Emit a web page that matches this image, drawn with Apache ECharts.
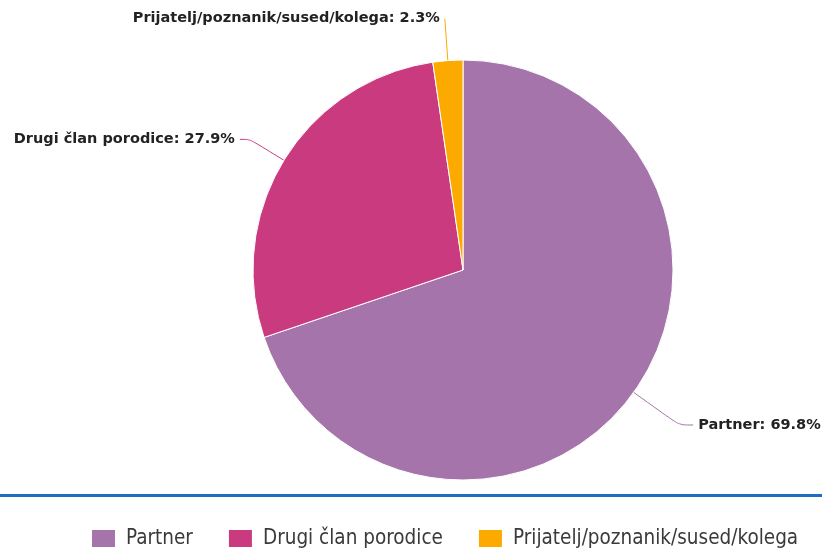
<!DOCTYPE html>
<html>
<head>
<meta charset="utf-8">
<script src="https://cdn.jsdelivr.net/npm/echarts@6/dist/echarts.min.js"></script>
<style>
  html, body { margin: 0; padding: 0; background: #fff; }
  #chart { width: 822px; height: 552px; }
</style>
</head>
<body>
<div id="chart"></div>
<script>
const categories = ['Partner', 'Drugi član porodice', 'Prijatelj/poznanik/sused/kolega']
const values = [69.8, 27.9, 2.3]
const colors = ['#a474ab', '#c93a7e', '#fdaa00']

// label line lengths per slice (first segment, second segment)
const lineLen = [[56, 14], [40, 10], [42, 0]]

const chart = echarts.init(document.getElementById('chart'))

chart.setOption({
  animation: false,
  color: colors,
  legend: {
    top: 528,
    left: 90,
    padding: 0,
    itemWidth: 25,
    itemHeight: 19,
    itemGap: 34,
    icon: 'rect',
    textStyle: {
      fontFamily: 'DejaVu Sans Condensed',
      fontSize: 20.5,
      color: '#3a3a3a',
      padding: [0, 0, 0, 5]
    },
    data: categories
  },
  graphic: [
    {
      type: 'line',
      shape: { x1: 0, y1: 495.5, x2: 822, y2: 495.5 },
      style: { stroke: '#1a6fc4', lineWidth: 3 }
    }
  ],
  series: [
    {
      type: 'pie',
      center: [463, 270],
      radius: 210,
      startAngle: 90,
      clockwise: true,
      itemStyle: {
        borderColor: '#fff',
        borderWidth: 1
      },
      label: {
        formatter: '{b}: {c}%',
        fontFamily: 'DejaVu Sans',
        fontWeight: 'bold',
        fontSize: 14.5,
        color: '#222',
        overflow: 'none'
      },
      labelLine: {
        smooth: true,
        lineStyle: { width: 1 }
      },
      data: categories.map((name, i) => ({
        name: name,
        value: values[i],
        labelLine: { length: lineLen[i][0], length2: lineLen[i][1] }
      }))
    }
  ]
})
</script>
</body>
</html>
